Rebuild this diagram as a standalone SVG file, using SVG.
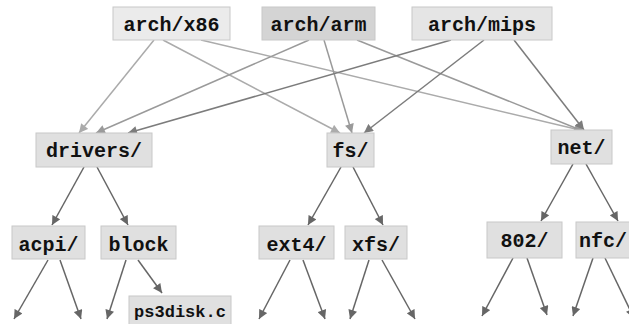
<svg xmlns="http://www.w3.org/2000/svg" width="629" height="324" viewBox="0 0 629 324">
<defs>
<style>
.box{fill:#e0e0e0;stroke:#c8c8c8;stroke-width:1}
.lbl{font-family:"Liberation Mono","Courier New",monospace;font-weight:bold;font-size:20px;fill:#111;text-anchor:middle}
.sm{font-size:17px}
.e1{stroke:#ababab;stroke-width:1.5;fill:none;marker-end:url(#a1)}
.e2{stroke:#9a9a9a;stroke-width:1.5;fill:none;marker-end:url(#a2)}
.e3{stroke:#7c7c7c;stroke-width:1.5;fill:none;marker-end:url(#a3)}
.e4{stroke:#666;stroke-width:1.5;fill:none;marker-end:url(#a4)}
</style>
<marker id="a1" markerUnits="userSpaceOnUse" viewBox="0 0 10 10" refX="10" refY="5" markerWidth="10" markerHeight="9" orient="auto"><path d="M0,0L10,5L0,10z" fill="#ababab"/></marker>
<marker id="a2" markerUnits="userSpaceOnUse" viewBox="0 0 10 10" refX="10" refY="5" markerWidth="10" markerHeight="9" orient="auto"><path d="M0,0L10,5L0,10z" fill="#9a9a9a"/></marker>
<marker id="a3" markerUnits="userSpaceOnUse" viewBox="0 0 10 10" refX="10" refY="5" markerWidth="10" markerHeight="9" orient="auto"><path d="M0,0L10,5L0,10z" fill="#7c7c7c"/></marker>
<marker id="a4" markerUnits="userSpaceOnUse" viewBox="0 0 10 10" refX="10" refY="5" markerWidth="10" markerHeight="9" orient="auto"><path d="M0,0L10,5L0,10z" fill="#666"/></marker>
</defs>
<g id="connectors">
<line class="e1" x1="154" y1="40" x2="79" y2="133"/>
<line class="e1" x1="163" y1="40" x2="340" y2="133"/>
<line class="e1" x1="201" y1="40" x2="584" y2="131"/>
<line class="e2" x1="309" y1="40" x2="96" y2="133"/>
<line class="e2" x1="324" y1="40" x2="352" y2="133"/>
<line class="e2" x1="357" y1="40" x2="583" y2="131"/>
<line class="e3" x1="451" y1="40" x2="128" y2="133"/>
<line class="e3" x1="484" y1="40" x2="364" y2="133"/>
<line class="e3" x1="514" y1="40" x2="584" y2="130"/>
<line class="e4" x1="84" y1="167" x2="52" y2="225"/>
<line class="e4" x1="97" y1="167" x2="128" y2="225"/>
<line class="e4" x1="341" y1="167" x2="308" y2="225"/>
<line class="e4" x1="353" y1="167" x2="383" y2="225"/>
<line class="e4" x1="573" y1="164" x2="541" y2="221"/>
<line class="e4" x1="586" y1="164" x2="618" y2="221"/>
<line class="e4" x1="48" y1="260" x2="14" y2="319"/>
<line class="e4" x1="60" y1="260" x2="81" y2="319"/>
<line class="e4" x1="126" y1="260" x2="107" y2="319"/>
<line class="e4" x1="138" y1="260" x2="162" y2="293"/>
<line class="e4" x1="290" y1="260" x2="259" y2="319"/>
<line class="e4" x1="303" y1="260" x2="325" y2="319"/>
<line class="e4" x1="369" y1="260" x2="350" y2="319"/>
<line class="e4" x1="382" y1="260" x2="415" y2="319"/>
<line class="e4" x1="513" y1="258" x2="482" y2="316"/>
<line class="e4" x1="527" y1="258" x2="547" y2="315"/>
<line class="e4" x1="593" y1="258" x2="573" y2="316"/>
<line class="e4" x1="605" y1="258" x2="634" y2="318"/>
</g>
<g id="arch-x86"><rect class="box" x="113" y="7" width="117" height="33" style="fill:#ebebeb"/><text class="lbl" x="171.5" y="31">arch/x86</text></g>
<g id="arch-arm"><rect class="box" x="262" y="7" width="113" height="33" style="fill:#d4d4d4"/><text class="lbl" x="318.5" y="31">arch/arm</text></g>
<g id="arch-mips"><rect class="box" x="412" y="7" width="140" height="33" style="fill:#e5e5e5"/><text class="lbl" x="482" y="31">arch/mips</text></g>
<g id="drivers"><rect class="box" x="36" y="133" width="116" height="34"/><text class="lbl" x="94" y="157">drivers/</text></g>
<g id="fs"><rect class="box" x="327" y="133" width="47" height="34"/><text class="lbl" x="350.5" y="157">fs/</text></g>
<g id="net"><rect class="box" x="551" y="130" width="61" height="34"/><text class="lbl" x="581.5" y="154">net/</text></g>
<g id="acpi"><rect class="box" x="12" y="226" width="73" height="33"/><text class="lbl" x="48.5" y="251">acpi/</text></g>
<g id="block"><rect class="box" x="101" y="226" width="75" height="33"/><text class="lbl" x="138.5" y="251">block</text></g>
<g id="ext4"><rect class="box" x="259" y="226" width="75" height="33"/><text class="lbl" x="296.5" y="251">ext4/</text></g>
<g id="xfs"><rect class="box" x="345" y="226" width="62" height="33"/><text class="lbl" x="376" y="251">xfs/</text></g>
<g id="n802"><rect class="box" x="487" y="222" width="75" height="36"/><text class="lbl" x="524.5" y="247">802/</text></g>
<g id="nfc"><rect class="box" x="576" y="222" width="70" height="36"/><text class="lbl" x="603" y="247">nfc/</text></g>
<g id="ps3disk"><rect class="box" x="129" y="296" width="102" height="30"/><text class="lbl sm" x="180" y="317">ps3disk.c</text></g>
</svg>
